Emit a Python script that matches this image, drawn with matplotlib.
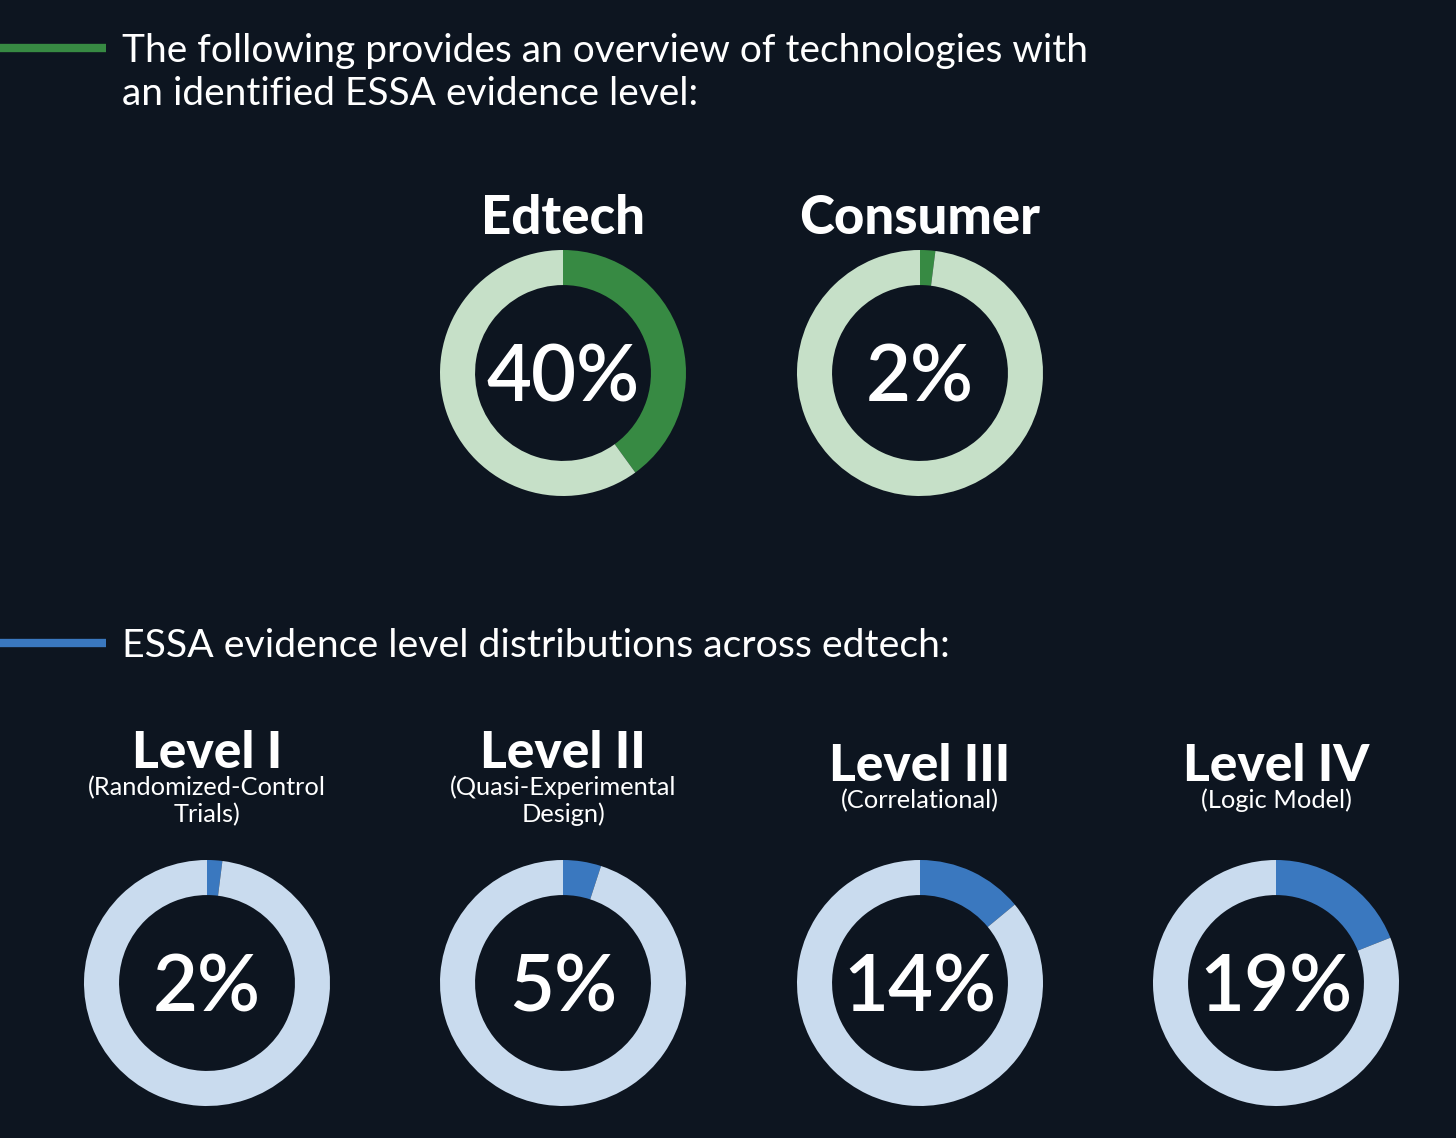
import matplotlib
matplotlib.use("Agg")
import matplotlib.pyplot as plt

# data
top_labels = ["Edtech", "Consumer"]
top_values = [40, 2]

level_titles = ["Level I", "Level II", "Level III", "Level IV"]
level_subtitles = ["(Randomized-Control\nTrials)", "(Quasi-Experimental\nDesign)",
                   "(Correlational)", "(Logic Model)"]
level_values = [2, 5, 14, 19]

header_top = "The following provides an overview of technologies with\nan identified ESSA evidence level:"
header_bottom = "ESSA evidence level distributions across edtech:"

BG = "#0d1520"
GREEN = "#378a43"
GREEN_LIGHT = "#c6e0c8"
BLUE = "#3a78bf"
BLUE_LIGHT = "#c9dbee"
FONT = "Lato"

W, H = 1456, 1138
fig = plt.figure(figsize=(W / 100, H / 100), dpi=100, facecolor=BG)

# background axes in pixel coordinates for text and the accent lines
bg = fig.add_axes([0, 0, 1, 1])
bg.set_xlim(0, W)
bg.set_ylim(H, 0)
bg.axis("off")
bg.set_facecolor(BG)


def donut(cx, cy, value, c_main, c_light, r=123):
    ax = fig.add_axes([(cx - r) / W, 1 - (cy + r) / H, 2 * r / W, 2 * r / H])
    ax.pie([value, 100 - value], colors=[c_main, c_light], startangle=90,
           counterclock=False, radius=1, wedgeprops=dict(width=0.285, linewidth=0))
    ax.set_xlim(-1, 1)
    ax.set_ylim(-1, 1)
    ax.set_aspect("equal")
    ax.axis("off")
    ax.text(0, 0, f"{value}%", ha="center", va="center_baseline", color="white",
            fontsize=56, fontfamily=FONT, fontweight="semibold")
    return ax


# top section
bg.plot([0, 106], [48, 48], color=GREEN, lw=6, solid_capstyle="butt")
lines = header_top.split("\n")
bg.text(122, 62, lines[0], color="white", fontsize=28,
        fontfamily=FONT, va="baseline", ha="left")
bg.text(122, 105, lines[1], color="white", fontsize=28,
        fontfamily=FONT, va="baseline", ha="left")

top_x = [563, 920]
for x, lab, val in zip(top_x, top_labels, top_values):
    bg.text(x, 234, lab, color="white", fontsize=38, fontfamily=FONT,
            fontweight="black", ha="center", va="baseline")
    donut(x, 373, val, GREEN, GREEN_LIGHT)

# bottom section
bg.plot([0, 106], [643, 643], color=BLUE, lw=6, solid_capstyle="butt")
bg.text(122, 657, header_bottom, color="white", fontsize=28.3,
        fontfamily=FONT, va="baseline", ha="left")

level_x = [207, 563, 920, 1276]
for x, t, s, val in zip(level_x, level_titles, level_subtitles, level_values):
    two_lines = "\n" in s
    base = 768 if two_lines else 781
    bg.text(x, base, t, color="white", fontsize=37, fontfamily=FONT,
            fontweight="black", ha="center", va="baseline")
    for i, line in enumerate(s.split("\n")):
        bg.text(x, base + 27 + 27 * i, line, color="white", fontsize=18.3,
                fontfamily=FONT, ha="center", va="baseline")
    donut(x, 983, val, BLUE, BLUE_LIGHT)

fig.savefig("out.png", dpi=100, facecolor=BG)
